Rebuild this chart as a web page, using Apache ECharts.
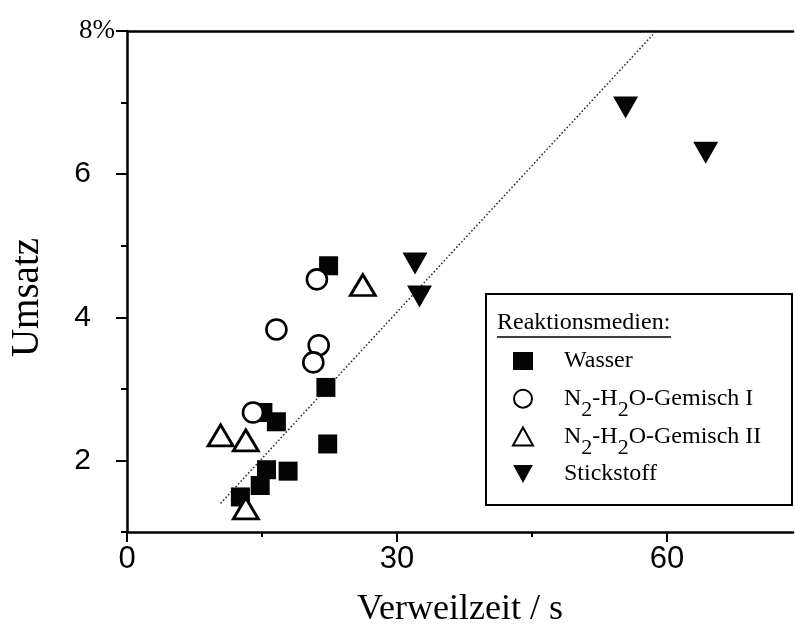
<!DOCTYPE html>
<html>
<head>
<meta charset="utf-8">
<script src="https://cdn.jsdelivr.net/npm/echarts@6/dist/echarts.min.js"></script>
<style>
  html, body { margin: 0; padding: 0; background: #fff; }
  #chart { width: 795px; height: 632px; }
</style>
</head>
<body>
<div id="chart"></div>
<script>
// Residence time (s) vs. conversion (%) for the different reaction media
const wasserX = [22.4, 22.1, 22.3, 15.1, 16.6, 15.5, 17.9, 14.8, 12.6];
const wasserY = [4.72, 3.02, 2.23, 2.67, 2.54, 1.87, 1.85, 1.65, 1.49];

const gemisch1X = [21.1, 16.6, 21.3, 20.7, 14.0];
const gemisch1Y = [4.53, 3.83, 3.61, 3.37, 2.67];

const gemisch2X = [26.2, 10.4, 13.2, 13.2];
const gemisch2Y = [4.45, 2.35, 2.28, 1.33];

const stickstoffX = [32.0, 32.5, 55.4, 64.3];
const stickstoffY = [4.75, 4.29, 6.93, 6.30];

// Dotted trend line end points
const trendX = [10.4, 58.8];
const trendY = [1.40, 8.0];

const xLabelTicks = [0, 30, 60];
const xMinorTicks = [15, 45];
const yLabelTicks = [2, 4, 6];
const yMajorTicks = [2, 4, 6, 8];
const yMinorTicks = [1, 3, 5, 7];

const seriesNames = ['Wasser', 'N2-H2O-Gemisch I', 'N2-H2O-Gemisch II', 'Stickstoff'];

const pairs = (xs, ys) => xs.map((x, i) => [x, ys[i]]);

const SERIF = 'Liberation Serif';
const INK = '#050505';
const downTri = 'path://M0,0L24,0L12,22Z';

const chart = echarts.init(document.getElementById('chart'), null, { renderer: 'canvas' });

// Legend labels: every row starts with a fixed-height spacer so all rows are equally tall
function legendLabel(name) {
  if (name.indexOf('N2-H2O') === 0) {
    const suffix = name.slice('N2-H2O'.length);
    return '{sp| }{t|N}{s|2}{t|-H}{s|2}{t|O' + suffix + '}';
  }
  return '{sp| }{t|' + name + '}';
}

const X_MAX = 74;

const option = {
  backgroundColor: '#fff',
  animation: false,
  grid: { left: 127, right: 2, top: 31, bottom: 100, show: false, outerBoundsMode: 'none', containLabel: false },
  xAxis: [
    {
      type: 'value', min: 0, max: X_MAX, interval: 15, position: 'bottom',
      name: 'Verweilzeit / s', nameLocation: 'middle', nameGap: 60,
      nameTextStyle: { fontFamily: SERIF, fontSize: 36, color: '#000' },
      axisLine: { show: true, lineStyle: { color: '#000', width: 2.5 } },
      axisTick: { show: true, inside: false, length: 10, customValues: xLabelTicks, lineStyle: { color: '#000', width: 2 } },
      axisLabel: { customValues: xLabelTicks, margin: 12, fontFamily: 'Liberation Sans', fontSize: 31, color: '#000' },
      splitLine: { show: false }
    },
    {
      type: 'value', min: 0, max: X_MAX, interval: 15, position: 'bottom', gridIndex: 0,
      axisLine: { show: false },
      axisTick: { show: true, length: 5, customValues: xMinorTicks, lineStyle: { color: '#000', width: 2 } },
      axisLabel: { show: false },
      splitLine: { show: false }
    },
    {
      // frame line along the top of the plot
      type: 'value', min: 0, max: X_MAX, position: 'top', gridIndex: 0,
      axisLine: { show: true, lineStyle: { color: '#000', width: 2.5 } },
      axisTick: { show: false },
      axisLabel: { show: false },
      splitLine: { show: false }
    }
  ],
  yAxis: [
    {
      type: 'value', min: 1, max: 8, interval: 1, position: 'left',
      name: 'Umsatz', nameLocation: 'middle', nameGap: 80, nameRotate: 90,
      nameTextStyle: { fontFamily: SERIF, fontSize: 39, color: '#000', padding: [0, 32, 0, 0] },
      axisLine: { show: true, lineStyle: { color: '#000', width: 2.5 } },
      axisTick: { show: true, length: 11, customValues: yMajorTicks, lineStyle: { color: '#000', width: 2 } },
      axisLabel: { customValues: yLabelTicks, margin: 36, fontFamily: 'Liberation Sans', fontSize: 30, color: '#000' },
      splitLine: { show: false }
    },
    {
      type: 'value', min: 1, max: 8, interval: 1, position: 'left', offset: 0,
      axisLine: { show: false },
      axisTick: { show: true, length: 6, customValues: yMinorTicks, lineStyle: { color: '#000', width: 2 } },
      axisLabel: { customValues: [8], margin: 12, formatter: v => v + '%', fontFamily: SERIF, fontSize: 27, color: '#000' },
      splitLine: { show: false }
    }
  ],
  legend: {
    orient: 'vertical', left: 507, top: 333,
    itemWidth: 20, itemHeight: 18, itemGap: -8.3,
    data: [
      { name: seriesNames[0], icon: 'rect' },
      { name: seriesNames[1], icon: 'circle' },
      { name: seriesNames[2], icon: 'triangle' },
      { name: seriesNames[3], icon: downTri }
    ],
    formatter: legendLabel,
    textStyle: {
      color: '#000', fontFamily: SERIF, fontSize: 24,
      rich: {
        sp: { width: 26, fontSize: 22, lineHeight: 22, padding: [12, 0, 12, 0] },
        t: { fontFamily: SERIF, fontSize: 24, color: '#000' },
        s: { fontFamily: SERIF, fontSize: 22, lineHeight: 22, padding: [24, 0, 0, 0], color: '#000' }
      }
    },
    selectedMode: false
  },
  graphic: [
    {
      type: 'rect', z: -1,
      shape: { x: 486, y: 294, width: 306, height: 211 },
      style: { fill: '#fff', stroke: '#000', lineWidth: 2 }
    },
    {
      type: 'text', left: 497, top: 311,
      style: { text: 'Reaktionsmedien:', font: '24px "Liberation Serif"', fill: '#000' }
    },
    {
      type: 'line',
      shape: { x1: 497, y1: 337, x2: 671, y2: 337 },
      style: { stroke: '#000', lineWidth: 1.5 }
    }
  ],
  series: [
    {
      type: 'line', name: 'Trend', data: pairs(trendX, trendY),
      symbol: 'none', silent: true, z: 1,
      lineStyle: { color: '#222', width: 1.5, type: [1.5, 2.2] }
    },
    {
      type: 'scatter', name: seriesNames[0], data: pairs(wasserX, wasserY),
      symbol: 'rect', symbolSize: 19, z: 2,
      itemStyle: { color: INK, borderWidth: 0, opacity: 1 }
    },
    {
      type: 'scatter', name: seriesNames[1], data: pairs(gemisch1X, gemisch1Y),
      symbol: 'circle', symbolSize: 20, z: 3,
      itemStyle: { color: '#fff', borderColor: '#000', borderWidth: 2.6, opacity: 1 }
    },
    {
      type: 'scatter', name: seriesNames[2], data: pairs(gemisch2X, gemisch2Y),
      symbol: 'triangle', symbolSize: [25, 21], z: 4,
      itemStyle: { color: '#fff', borderColor: '#000', borderWidth: 2.8, opacity: 1 }
    },
    {
      type: 'scatter', name: seriesNames[3], data: pairs(stickstoffX, stickstoffY),
      symbol: downTri, symbolSize: [25, 22], z: 5,
      itemStyle: { color: INK, borderWidth: 0, opacity: 1 }
    }
  ]
};

chart.setOption(option);
</script>
</body>
</html>
